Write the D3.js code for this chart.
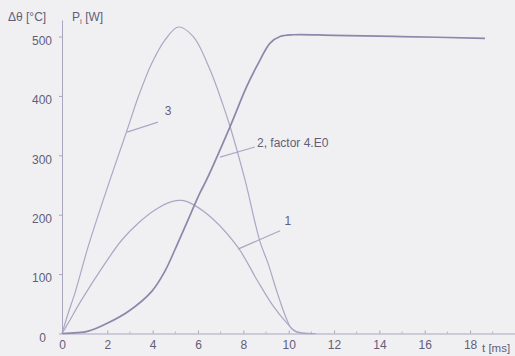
<!DOCTYPE html>
<html>
<head>
<meta charset="utf-8">
<script src="https://cdn.jsdelivr.net/npm/d3@7"></script>
<style>
  body { margin: 0; background: #f0f0f2; }
  svg { display: block; }
  text { font-family: "Liberation Sans", Arial, sans-serif; font-size: 12px; fill: #625e78; }
  .axis path, .axis line { stroke: #a9a6bd; }
</style>
</head>
<body>
<div id="chart"></div>
<script>
// values (t in ms)
var t1 = [0, 0.28, 0.87, 1.9, 2.63, 3.37, 4.1, 4.84, 5.3, 5.79, 6.68, 7.78, 8.59, 9.32, 9.91, 10.28, 10.7, 11.2];
var curve1 = [0, 18, 57, 118, 157, 186, 208, 222, 224, 217, 192, 144, 91, 46, 18, 4, 0.5, 0];

var t2 = [0, 1.16, 2.04, 2.92, 3.96, 4.54, 4.98, 5.43, 6.09, 6.38, 7.41, 8.15, 8.73, 9.18, 9.62, 10.2, 12, 15, 18.66];
var curve2 = [0, 4, 18, 37, 71, 105, 141, 180, 237, 259, 348, 416, 460, 489, 500, 503, 502, 500, 497];

var t3 = [0, 0.28, 0.57, 1.16, 2.12, 2.85, 3.37, 3.96, 4.54, 5.13, 5.79, 6.53, 7.1, 7.41, 8.07, 8.73, 9.09, 9.5, 9.91, 10.13, 10.5, 11];
var curve3 = [0, 35, 68, 147, 259, 340, 399, 455, 494, 516, 500, 444, 385, 349, 259, 155, 118, 68, 24, 8, 1, 0];

var xTicks = [0, 2, 4, 6, 8, 10, 12, 14, 16, 18];
var yTicks = [0, 100, 200, 300, 400, 500];

// labels: [text, t, value] and leader lines [t0, v0, t1, v1]
var labels = [["3", 4.53, 375], ["2, factor 4.E0", 8.6, 321], ["1", 9.82, 189]];
var leaders = [[2.87, 339, 4.23, 356], [6.97, 297, 8.51, 314], [7.76, 142, 9.62, 173]];

var width = 515, height = 356;

var svg = d3.select("#chart").append("svg")
    .attr("width", width)
    .attr("height", height);

var x = d3.scaleLinear().domain([0, 20]).range([62, 515.4]);
var y = d3.scaleLinear().domain([0, 528]).range([333.5, 19.9]);

// axes
var xAxis = svg.append("g")
    .attr("class", "axis x")
    .attr("transform", "translate(0," + y(0) + ")")
    .call(d3.axisBottom(x).tickValues(xTicks).tickSizeInner(-3).tickSizeOuter(0).tickPadding(7));
xAxis.select(".domain").attr("stroke-width", 1.2);

// minor ticks on the time axis
svg.append("g").selectAll("line")
    .data(d3.range(1, 20, 2))
    .enter().append("line")
    .attr("x1", function(d) { return x(d); })
    .attr("x2", function(d) { return x(d); })
    .attr("y1", y(0))
    .attr("y2", y(0) - 2)
    .attr("stroke", "#b4b1c6");

var yAxis = svg.append("g")
    .attr("class", "axis y")
    .attr("transform", "translate(" + x(0) + ",0)")
    .call(d3.axisLeft(y).tickValues(yTicks).tickSizeInner(3).tickSizeOuter(0).tickPadding(7));
yAxis.selectAll(".tick text").attr("dy", "0.65em");
yAxis.selectAll(".tick").filter(function(d) { return d === 0; })
    .select("text").attr("x", -16).attr("dy", "0.7em");

svg.selectAll(".axis .tick text").style("fill", "#625e78").style("font-size", "12px")
    .style("font-family", "'Liberation Sans', Arial, sans-serif");

// axis titles
svg.append("text").attr("x", 8).attr("y", 21).text("Δθ [°C]");
var pt = svg.append("text").attr("x", 72).attr("y", 21);
pt.append("tspan").text("P");
pt.append("tspan").attr("dy", 3).style("font-size", "8px").text("i");
pt.append("tspan").attr("dy", -3).text(" [W]");
svg.append("text").attr("x", 482).attr("y", 352).style("font-size", "11.5px").text("t [ms]");

// curves
var line = d3.line()
    .curve(d3.curveCatmullRom.alpha(0.5))
    .x(function(d) { return x(d[0]); })
    .y(function(d) { return y(Math.max(0, d[1])); });

var series = [
  {t: t1, v: curve1, color: "#aba7c4", w: 1.2},
  {t: t3, v: curve3, color: "#aba7c4", w: 1.2},
  {t: t2, v: curve2, color: "#8c87ab", w: 1.7}
];

svg.append("g").selectAll("path")
    .data(series)
    .enter().append("path")
    .attr("fill", "none")
    .attr("stroke", function(d) { return d.color; })
    .attr("stroke-width", function(d) { return d.w; })
    .attr("d", function(d) { return line(d.t.map(function(t, i) { return [t, d.v[i]]; })); });

// leader lines and labels
svg.append("g").selectAll("line")
    .data(leaders)
    .enter().append("line")
    .attr("x1", function(d) { return x(d[0]); })
    .attr("y1", function(d) { return y(d[1]); })
    .attr("x2", function(d) { return x(d[2]); })
    .attr("y2", function(d) { return y(d[3]); })
    .attr("stroke", "#aba7c4")
    .attr("stroke-width", 1.2);

svg.append("g").selectAll("text")
    .data(labels)
    .enter().append("text")
    .attr("x", function(d) { return x(d[1]); })
    .attr("y", function(d) { return y(d[2]); })
    .attr("dy", "0.35em")
    .text(function(d) { return d[0]; });
</script>
</body>
</html>
